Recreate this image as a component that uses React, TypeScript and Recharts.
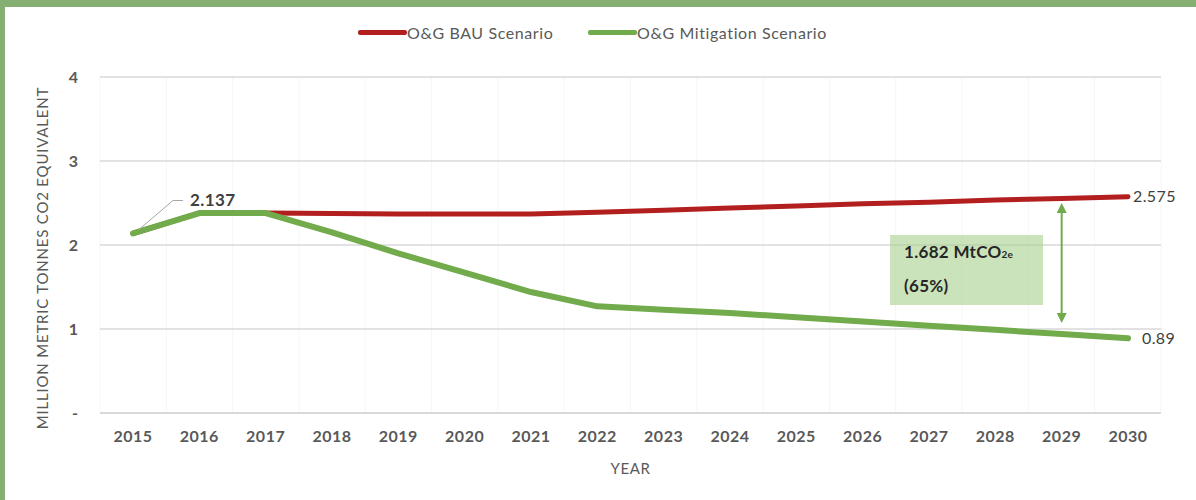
import { CartesianGrid, Label, Legend, Line, LineChart, ReferenceLine, XAxis, YAxis } from "recharts";

const years = ["2015", "2016", "2017", "2018", "2019", "2020", "2021", "2022", "2023", "2024", "2025", "2026", "2027", "2028", "2029", "2030"];
const bauValues = [2.137, 2.38, 2.38, 2.375, 2.37, 2.37, 2.37, 2.39, 2.415, 2.44, 2.465, 2.49, 2.51, 2.535, 2.555, 2.575];
const mitigationValues = [2.137, 2.38, 2.38, 2.15, 1.9, 1.67, 1.44, 1.27, 1.23, 1.19, 1.14, 1.09, 1.04, 0.99, 0.94, 0.89];
const yTicks = [0, 1, 2, 3, 4];
const gapTop = 2.5;
const gapBottom = 1.07;

const data = years.map((year, i) => ({
  year,
  bau: bauValues[i],
  mitigation: mitigationValues[i],
}));

const FONT = "Lato, 'Open Sans', sans-serif";
const RED = "#b31f1f";
const GREEN = "#72ab4b";
const TEXT = "#595959";

const bauLabel = (props: any) => {
  const { x, y, index } = props;
  if (index !== years.length - 1) return <g />;
  return (
    <text x={x + 5} y={y} dy="0.35em" fill="#404040" fontSize={16} letterSpacing={0.4} fontFamily={FONT}>
      {bauValues[index]}
    </text>
  );
};

const mitigationLabel = (props: any) => {
  const { x, y, index } = props;
  if (index === 0) {
    return (
      <g>
        <polyline points={`${x + 6},${y - 4} ${x + 40},${y - 33} ${x + 50},${y - 33}`} fill="none" stroke="#a6a6a6" strokeWidth={1} />
        <text x={x + 57} y={y - 33} dy="0.35em" fill="#404040" fontSize={17} fontWeight={700} letterSpacing={0.4} fontFamily={FONT}>
          {mitigationValues[0]}
        </text>
      </g>
    );
  }
  if (index === years.length - 1) {
    return (
      <text x={x + 14} y={y} dy="0.35em" fill="#404040" fontSize={16} letterSpacing={0.4} fontFamily={FONT}>
        {mitigationValues[index]}
      </text>
    );
  }
  return <g />;
};

const renderLegend = ({ payload }: any) => (
  <div style={{ display: "flex", fontFamily: FONT, fontSize: 16, letterSpacing: 0.6, color: TEXT, whiteSpace: "nowrap" }}>
    {(payload || []).map((item: any, i: number) => (
      <div key={item.value} style={{ display: "flex", alignItems: "center", width: i === 0 ? 230 : "auto" }}>
        <span style={{ display: "inline-block", width: 49, height: 5, borderRadius: 2, background: item.color }} />
        <span>{item.value}</span>
      </div>
    ))}
  </div>
);

const YAxisTitle = (props: any) => {
  const { viewBox } = props;
  const cx = 42;
  const cy = viewBox.y + viewBox.height / 2 + 13;
  return (
    <text x={cx} y={cy} transform={`rotate(-90, ${cx}, ${cy})`} textAnchor="middle" dominantBaseline="central" fill={TEXT} fontSize={15} letterSpacing={0.8} fontFamily={FONT}>
      MILLION METRIC TONNES CO2 EQUIVALENT
    </text>
  );
};

const GapArrow = (props: any) => {
  const { x1, y1, y2 } = props;
  const top = Math.min(y1, y2);
  const bottom = Math.max(y1, y2);
  return (
    <g>
      <line x1={x1} y1={top + 8} x2={x1} y2={bottom - 8} stroke={GREEN} strokeWidth={2} />
      <polygon points={`${x1},${top} ${x1 - 5},${top + 10} ${x1 + 5},${top + 10}`} fill={GREEN} />
      <polygon points={`${x1},${bottom} ${x1 - 5},${bottom - 10} ${x1 + 5},${bottom - 10}`} fill={GREEN} />
    </g>
  );
};

export default function App() {
  return (
    <div style={{ position: "absolute", left: 0, top: 0, width: 1196, height: 500, background: "#fff" }}>
      <LineChart width={1196} height={500} data={data} margin={{ top: 77, right: 35, bottom: 0, left: 0 }}>
        <CartesianGrid
          horizontal={false}
          stroke="#f6f6f6"
          verticalCoordinatesGenerator={({ offset }: any) =>
            Array.from({ length: years.length + 1 }, (_, i) => offset.left + (i * offset.width) / years.length)
          }
        />
        <CartesianGrid vertical={false} stroke="#d9d9d9" strokeWidth={1.5} />
        <XAxis
          dataKey="year"
          height={87}
          padding={{ left: 33, right: 33 }}
          axisLine={{ stroke: "#d9d9d9", strokeWidth: 2 }}
          tickLine={false}
          tickMargin={12}
          tick={{ fill: TEXT, fontSize: 16, fontWeight: 700, letterSpacing: 0.5, fontFamily: FONT }}
          interval={0}
        >
          <Label value="YEAR" position="insideBottom" offset={26} fill={TEXT} fontSize={15} letterSpacing={0.6} fontFamily={FONT} />
        </XAxis>
        <YAxis
          width={100}
          domain={[0, 4]}
          ticks={yTicks}
          axisLine={false}
          tickLine={false}
          tickMargin={16}
          tickFormatter={(v: number) => (v === 0 ? "-" : String(v))}
          tick={{ fill: TEXT, fontSize: 16, fontWeight: 700, fontFamily: FONT }}
          label={<YAxisTitle />}
        />
        <Legend verticalAlign="middle" align="center" content={renderLegend} wrapperStyle={{ top: 23, left: 358, width: "auto" }} />
        <Line
          type="linear"
          dataKey="bau"
          name="O&G BAU Scenario"
          stroke={RED}
          strokeWidth={5}
          strokeLinecap="round"
          strokeLinejoin="round"
          dot={false}
          activeDot={false}
          isAnimationActive={false}
          label={bauLabel}
        />
        <Line
          type="linear"
          dataKey="mitigation"
          name="O&G Mitigation Scenario"
          stroke={GREEN}
          strokeWidth={6}
          strokeLinecap="round"
          strokeLinejoin="round"
          dot={false}
          activeDot={false}
          isAnimationActive={false}
          label={mitigationLabel}
        />
        <ReferenceLine
          segment={[
            { x: "2029", y: gapTop },
            { x: "2029", y: gapBottom },
          ]}
          shape={<GapArrow />}
        />
      </LineChart>
      <div
        style={{
          position: "absolute",
          left: 890,
          top: 235,
          width: 153,
          height: 70,
          background: "rgba(169, 208, 142, 0.6)",
          fontFamily: FONT,
          fontWeight: 700,
          fontSize: 17,
          letterSpacing: 0.3,
          color: "#262626",
          boxSizing: "border-box",
          padding: "0 0 0 14px",
          lineHeight: "34px",
        }}
      >
        <div>
          1.682 MtCO<sub style={{ fontSize: 10, verticalAlign: "baseline" }}>2e</sub>
        </div>
        <div style={{ marginTop: -2 }}>(65%)</div>
      </div>
      <div style={{ position: "absolute", left: 0, top: 0, width: 1196, height: 7, background: "#84ae72" }} />
      <div style={{ position: "absolute", left: 0, top: 0, width: 5, height: 500, background: "#84ae72" }} />
    </div>
  );
}
